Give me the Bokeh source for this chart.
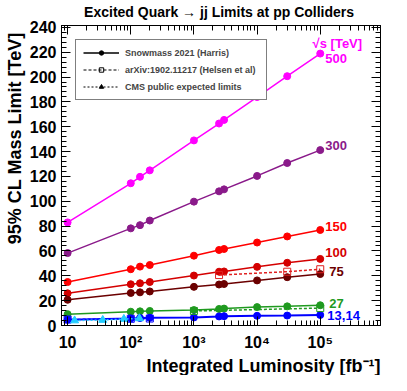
from bokeh.plotting import figure
from bokeh.models import (Range1d, LinearAxis, LogAxis, FixedTicker, SingleIntervalTicker,
                          Label, Legend, LegendItem, Title, Span)
from bokeh.embed import file_html
from bokeh.resources import INLINE

FONT = "Liberation Sans"

# ---- data ----
lumi = [10, 100, 140, 200, 1000, 2500, 3000, 10000, 30000, 100000]
m500 = [83.0, 114.5, 119.7, 124.9, 149.0, 162.6, 165.5, 183.9, 200.7, 218.9]
m300 = [58.3, 78.2, 80.8, 84.5, 99.7, 108.0, 109.6, 120.4, 130.8, 141.2]
m150 = [35.0, 45.3, 47.4, 48.7, 56.2, 60.8, 61.6, 66.8, 71.7, 76.9]
m100 = [25.9, 33.2, 34.0, 35.0, 40.2, 43.3, 43.5, 47.2, 50.5, 53.6]
m75 = [20.7, 26.2, 26.7, 27.4, 31.1, 33.0, 33.4, 36.3, 38.9, 41.4]
m27 = [9.1, 11.1, 11.4, 11.7, 12.4, 13.3, 13.6, 14.8, 15.4, 16.3]
m14 = [4.7, 5.7, 6.0, 6.2, 6.5, 7.3, 7.5, 7.8, 8.0, 8.5]

h100_lumi = [2500, 30000, 100000]
h100 = [40.6, 43.3, 45.3]
h27_lumi = [1000, 100000]
h27 = [11.7, 14.0]
h14_lumi = [10, 100, 200]
h14 = [4.8, 5.4, 5.6]

cms_lumi = [12.9, 36, 77.8, 137]
cms = [4.0, 4.4, 5.2, 5.7]

energies = ["500", "300", "150", "100", "75", "27", "13,14"]
series = [m500, m300, m150, m100, m75, m27, m14]
colors = ["#ff00ff", "#8a1a8a", "#ff0000", "#d40000", "#6b0000", "#1f9a1f", "#0000ff"]
label_x = [120500, 120500, 120500, 120500, 139300, 139300, 129600]
label_y = [215.3, 145.0, 79.4, 58.8, 43.2, 18.1, 8.3]

x_ticks = [10, 100, 1000, 10000, 100000]
x_tick_labels = ["10", "10\u00b2", "10\u00b3", "10\u2074", "10\u2075"]
y_ticks = list(range(0, 241, 20))

title_text = "Excited Quark  \u2192 jj Limits at pp Colliders"
ylabel_text = "95% CL Mass Limit [TeV]"
xlabel_text = "Integrated Luminosity [fb\u207b\u00b9]"
legend_labels = ["Snowmass 2021 (Harris)", "arXiv:1902.11217 (Helsen et al)",
                 "CMS public expected limits"]

X_END = 9e5

# ---- figure ----
p = figure(x_axis_type="log", x_range=Range1d(8, X_END), y_range=Range1d(0, 241.5),
           width=391, height=375, output_backend="svg",
           toolbar_location=None, min_border_left=58, min_border_right=11,
           min_border_top=21, min_border_bottom=45)
p.grid.visible = False
p.outline_line_color = "black"
p.outline_line_width = 1
p.outline_line_alpha = 1.0
p.background_fill_color = "white"
p.border_fill_color = "white"

minor = [k * 10 ** d for d in range(0, 6) for k in range(2, 10) if 8 <= k * 10 ** d <= X_END]


def style(ax, show, ticks, filler=" "):
    ax.major_tick_in = 9
    ax.major_tick_out = 0
    ax.minor_tick_in = 5
    ax.minor_tick_out = 0
    ax.axis_line_color = "black"
    ax.axis_line_width = 1
    ax.major_tick_line_color = "black"
    ax.minor_tick_line_color = "black"
    ax.major_label_text_font = FONT
    ax.major_label_text_font_style = "bold"
    ax.major_label_text_color = "black"
    if show:
        ax.major_label_text_font_size = "16px"
    else:
        ax.major_label_text_font_size = "2px"
        ax.major_label_text_color = "white"
        ax.major_label_standoff = 0
        ax.major_label_overrides = {t: filler for t in ticks}


xb = p.xaxis[0]
xb.ticker = FixedTicker(ticks=x_ticks, minor_ticks=minor)
xb.major_label_overrides = {t: s for t, s in zip(x_ticks, x_tick_labels)}
style(xb, True, x_ticks)
xb.major_label_standoff = 8

yl = p.yaxis[0]
yl.ticker = SingleIntervalTicker(interval=20, num_minor_ticks=5)
style(yl, True, y_ticks)
yl.major_label_standoff = 5

xt = LogAxis(ticker=FixedTicker(ticks=x_ticks, minor_ticks=minor))
style(xt, False, x_ticks, " ")
p.add_layout(xt, "above")
yr = LinearAxis(ticker=SingleIntervalTicker(interval=20, num_minor_ticks=5))
style(yr, False, y_ticks, ".")
p.add_layout(yr, "right")

# frame edge on the right
p.add_layout(Span(location=X_END, dimension="height", line_color="black", line_width=1))

# ---- titles as side-panel titles ----
p.add_layout(Title(text=title_text, align="center", offset=-10, standoff=2, text_font=FONT,
                   text_font_style="bold", text_font_size="14px", text_color="black"), "above")
p.add_layout(Title(text=xlabel_text, align="right", standoff=0, text_font=FONT,
                   text_font_style="bold", text_font_size="18px", text_color="black"), "below")
p.add_layout(Title(text=ylabel_text, align="right", offset=7, standoff=4, text_font=FONT,
                   text_font_style="bold", text_font_size="18px", text_color="black"), "left")

# ---- data series ----
for ys, c in zip(series, colors):
    lw = 2 if c == "#0000ff" else 1.5
    p.line(lumi, ys, line_color=c, line_width=lw)
    p.scatter(lumi, ys, marker="circle", size=7, fill_color=c, line_color=c)

for xs, ys, c in [(h100_lumi, h100, "#e02020"), (h27_lumi, h27, "#1f9a1f"), (h14_lumi, h14, "#0000ff")]:
    p.line(xs, ys, line_color=c, line_width=1.5, line_dash="3 2")
    p.scatter(xs, ys, marker="square", size=7, fill_color=None, line_color=c, line_width=1)

p.line(cms_lumi, cms, line_color="#22ccff", line_width=1.5, line_dash="2 2")
p.scatter(cms_lumi, cms, marker="triangle", size=8, fill_color="#22ccff", line_color="#22ccff")

for t, x, y, c in zip(energies, label_x, label_y, colors):
    p.add_layout(Label(x=x, y=y, text=t, text_color=c, text_font=FONT, text_font_style="bold",
                       text_font_size="13px", text_baseline="middle", text_align="left"))

p.add_layout(Label(x=75700, y=227.0, text="\u221as  [TeV]", text_color="#ff00ff", text_font=FONT,
                   text_font_style="bold", text_font_size="13px", text_baseline="middle",
                   text_align="left"))

# ---- legend ----
nan = float("nan")
l1 = p.line([nan], [nan], line_color="black", line_width=1.5)
s1 = p.scatter([nan], [nan], marker="circle", size=6, fill_color="black", line_color="black")
l2 = p.line([nan], [nan], line_color="black", line_width=1, line_dash="3 2")
s2 = p.scatter([nan], [nan], marker="square", size=7, fill_color=None, line_color="black")
l3 = p.line([nan], [nan], line_color="black", line_width=1, line_dash="2 2")
s3 = p.scatter([nan], [nan], marker="triangle", size=7, fill_color="black", line_color="black")

legend = Legend(items=[LegendItem(label=legend_labels[0], renderers=[l1, s1]),
                       LegendItem(label=legend_labels[1], renderers=[l2, s2]),
                       LegendItem(label=legend_labels[2], renderers=[l3, s3])],
                location="top_left", margin=14, padding=7, spacing=6,
                glyph_width=36, glyph_height=11, label_height=11, label_standoff=6,
                label_width=134, label_text_font=FONT, label_text_font_style="bold",
                label_text_font_size="9px", border_line_color="black", border_line_width=1,
                background_fill_color="white", background_fill_alpha=1.0)
p.add_layout(legend)

open("out.html", "w").write(file_html(p, INLINE))
